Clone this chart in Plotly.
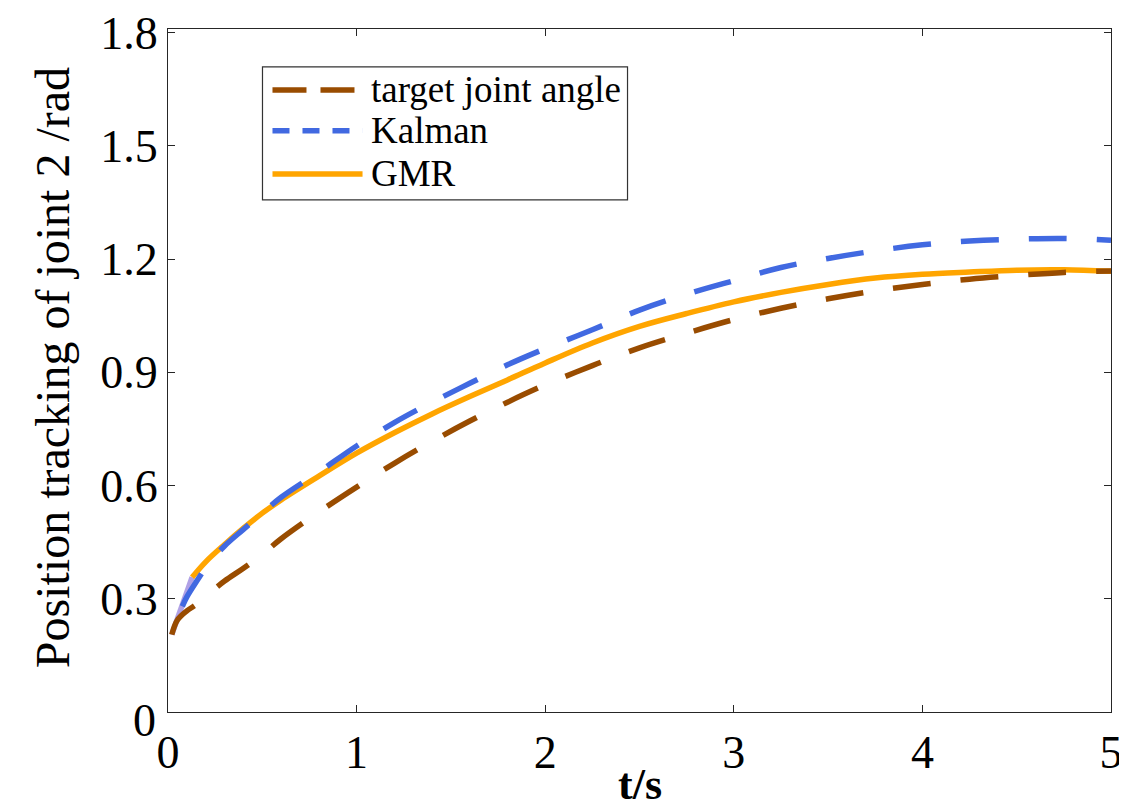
import plotly.graph_objects as go

# ---- data ----
t_target = [0.02, 0.05, 0.10, 0.15, 0.20, 0.30, 0.40, 0.50, 0.60, 0.80, 1.00, 1.20, 1.40, 1.60, 1.80,
            2.00, 2.25, 2.50, 2.75, 3.00, 3.25, 3.50, 3.75, 4.00, 4.25, 4.50, 4.75, 5.00]
v_target = [0.205, 0.244, 0.268, 0.285, 0.307, 0.347, 0.381, 0.418, 0.459, 0.530, 0.596, 0.659, 0.717,
            0.771, 0.821, 0.867, 0.918, 0.965, 1.004, 1.040, 1.070, 1.095, 1.116, 1.133, 1.147, 1.157,
            1.165, 1.169]

t_kalman = [0.076, 0.10, 0.15, 0.217, 0.30, 0.40, 0.50, 0.60, 0.80, 1.00, 1.20, 1.40, 1.60, 1.80,
            2.00, 2.25, 2.50, 2.75, 3.00, 3.25, 3.50, 3.75, 4.00, 4.25, 4.50, 4.75, 5.00]
v_kalman = [0.280, 0.305, 0.345, 0.394, 0.440, 0.484, 0.527, 0.569, 0.636, 0.705, 0.767, 0.821, 0.871,
            0.920, 0.963, 1.013, 1.065, 1.107, 1.143, 1.178, 1.202, 1.222, 1.238, 1.248, 1.253, 1.255,
            1.250]

t_gmr = [0.128, 0.20, 0.30, 0.40, 0.50, 0.60, 0.80, 1.00, 1.20, 1.40, 1.60, 1.80,
         2.00, 2.25, 2.50, 2.75, 3.00, 3.25, 3.50, 3.75, 4.00, 4.25, 4.50, 4.75, 5.00]
v_gmr = [0.357, 0.398, 0.444, 0.487, 0.527, 0.562, 0.625, 0.686, 0.740, 0.790, 0.836, 0.880,
         0.925, 0.978, 1.022, 1.056, 1.087, 1.112, 1.133, 1.150, 1.160, 1.166, 1.171, 1.172, 1.168]

t_start = [0.02, 0.076, 0.128]
v_start = [0.205, 0.280, 0.357]

series_names = ["target joint angle", "Kalman", "GMR"]
x_ticks = [0, 1, 2, 3, 4, 5]
y_ticks = [0, 0.3, 0.6, 0.9, 1.2, 1.5, 1.8]
y_ticktext = ["", "0.3", "0.6", "0.9", "1.2", "1.5", "1.8"]
x_title = "t/s"
y_title = "Position tracking of joint 2 /rad"

C_TARGET = "#994C00"
C_KALMAN = "#4169E1"
C_GMR = "#FFA500"
FONT = "Liberation Serif"
LW = 5.5

fig = go.Figure()
fig.add_trace(go.Scatter(x=t_start, y=v_start, mode="lines", showlegend=False,
                         line=dict(color="rgba(150,130,220,0.75)", width=LW)))
fig.add_trace(go.Scatter(x=t_gmr, y=v_gmr, mode="lines", name=series_names[2], showlegend=False,
                         line=dict(color=C_GMR, width=LW, shape="spline")))
fig.add_trace(go.Scatter(x=t_target, y=v_target, mode="lines", name=series_names[0], showlegend=False,
                         line=dict(color=C_TARGET, width=LW, dash="38px,30px", shape="spline")))
fig.add_trace(go.Scatter(x=t_kalman, y=v_kalman, mode="lines", name=series_names[1], showlegend=False,
                         line=dict(color=C_KALMAN, width=LW, dash="38px,30px", shape="spline")))

# ---- custom legend (paper coordinates) ----
box = dict(x0=0.1002, x1=0.4873, y0=0.7497, y1=0.9444)
fig.add_shape(type="rect", xref="paper", yref="paper", **box,
              line=dict(color="#333333", width=1.2), fillcolor="white", layer="above")
rows = [(0.9107, C_TARGET, "34px,14px"), (0.8512, C_KALMAN, "17px,13px"), (0.7878, C_GMR, "solid")]
for (yy, col, dash), name in zip(rows, series_names):
    fig.add_shape(type="line", xref="paper", yref="paper", x0=0.1108, x1=0.2063, y0=yy, y1=yy,
                  line=dict(color=col, width=LW, dash=dash), layer="above")
    fig.add_annotation(xref="paper", yref="paper", x=0.2135, y=yy, text=name, showarrow=False,
                       xanchor="left", yanchor="middle", font=dict(family=FONT, size=37, color="black"))

# y tick "0" placed slightly lower, as in the reference
fig.add_annotation(xref="paper", yref="y", x=0, y=0, text="0", showarrow=False, xanchor="right",
                   yanchor="middle", xshift=-10, yshift=-8, font=dict(family=FONT, size=46, color="black"))

# axis titles
fig.add_annotation(xref="paper", yref="paper", x=0.5, y=-0.106, text="<b>" + x_title + "</b>",
                   showarrow=False, xanchor="center", yanchor="middle",
                   font=dict(family=FONT, size=44, color="black"))
fig.add_annotation(xref="paper", yref="paper", x=-0.1225, y=0.504, text=y_title, textangle=-90,
                   showarrow=False, xanchor="center", yanchor="middle",
                   font=dict(family=FONT, size=48, color="black"))

axis_common = dict(showline=True, linecolor="#262626", linewidth=1.2, mirror="ticks",
                   ticks="inside", ticklen=7, tickcolor="#262626", tickwidth=1,
                   showgrid=False, zeroline=False, automargin=False, ticklabeloverflow="allow",
                   tickfont=dict(family=FONT, size=46, color="black"))

# the page places the figure 8px from the top-left corner, so size and margins compensate
fig.update_layout(
    width=1119, height=804,
    margin=dict(l=160, r=16, t=21, b=100),
    paper_bgcolor="white", plot_bgcolor="white",
    showlegend=False,
    xaxis=dict(range=[0, 5], tickvals=x_ticks, **axis_common),
    yaxis=dict(range=[0, 1.81], tickvals=y_ticks, ticktext=y_ticktext, **axis_common),
)

fig.write_html("out.html")
